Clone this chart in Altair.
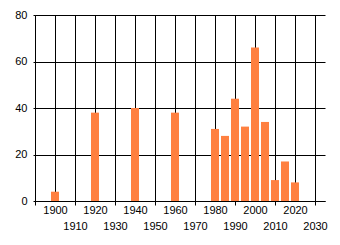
import altair as alt
import pandas as pd

years = [1900, 1920, 1940, 1960, 1980, 1985, 1990, 1995, 2000, 2005, 2010, 2015, 2020]
counts = [4, 38, 40, 38, 31, 28, 44, 32, 66, 34, 9, 17, 8]
x_ticks = [1890, 1900, 1910, 1920, 1930, 1940, 1950, 1960, 1970, 1980, 1990, 2000, 2010, 2020, 2030]
y_ticks = [0, 20, 40, 60, 80]

df = pd.DataFrame({"year": years, "count": counts})

FONT = "Liberation Sans"

chart = alt.Chart(df).mark_bar(size=8, color="#FF8040").encode(
    x=alt.X(
        "year:Q",
        scale=alt.Scale(domain=[1890, 2035], nice=False, zero=False, padding=0),
        axis=alt.Axis(
            values=x_ticks,
            title=None,
            format="d",
            grid=True,
            gridColor="#000000",
            gridOpacity=1,
            gridWidth=1,
            domainColor="#000000",
            tickColor="#000000",
            tickSize=4,
            tickOpacity={"condition": {"test": "datum.value % 20 == 10", "value": 1}, "value": 0},
            labelOpacity={"condition": {"test": "datum.value == 1890", "value": 0}, "value": 1},
            labelPadding={"condition": {"test": "datum.value % 20 == 10", "value": 15}, "value": -1},
            labelFont=FONT,
            labelFontSize=11,
            labelColor="#000000",
            labelOverlap=False,
            labelFlush=False,
        ),
    ),
    y=alt.Y(
        "count:Q",
        scale=alt.Scale(domain=[0, 80], nice=False, padding=0),
        axis=alt.Axis(
            values=y_ticks,
            title=None,
            grid=True,
            gridColor="#000000",
            gridOpacity=1,
            gridWidth=1,
            domainColor="#000000",
            tickColor="#000000",
            tickSize=2,
            labelPadding=6,
            labelFont=FONT,
            labelFontSize=11,
            labelColor="#000000",
        ),
    ),
).properties(
    width=290,
    height=186,
    padding={"left": 35, "top": 15, "right": 15, "bottom": 44},
    autosize=alt.AutoSizeParams(type="none"),
    background="#ffffff",
).configure_view(stroke=None)

chart.save("out.html", embed_options={"renderer": "svg", "actions": False})
